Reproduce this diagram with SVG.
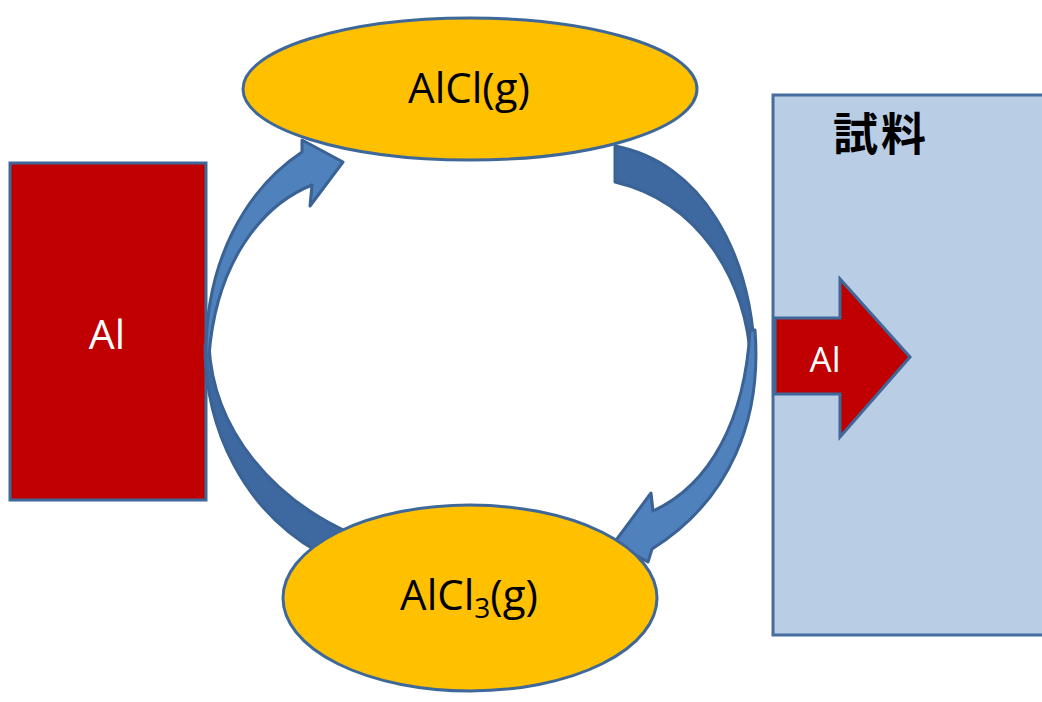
<svg xmlns="http://www.w3.org/2000/svg" width="1042" height="702" viewBox="0 0 1042 702">
  <style>
    .lbl { font-family: "Open Sans", "Noto Sans", "Liberation Sans", sans-serif; }
    .gas { fill: #FFC000; stroke: #3E6899; stroke-width: 3; }
    .front { fill: #4F81BD; stroke: #3A6295; stroke-width: 3; stroke-linejoin: round; }
    .back { fill: #3D68A0; stroke: #3A6295; stroke-width: 3; stroke-linejoin: round; }
    .red { fill: #C00000; stroke: #3E6899; stroke-width: 3; }
  </style>
  <rect width="1042" height="702" fill="#FFFFFF"/>

  <!-- sample block on the right -->
  <g id="sample">
    <rect x="773" y="95" width="290" height="540" fill="#B9CDE5" stroke="#456D9E" stroke-width="3"/>
    <text x="833" y="151" font-family="'Noto Sans CJK JP', sans-serif" font-weight="bold" font-size="45" letter-spacing="3" fill="#000000">試料</text>
  </g>

  <!-- Al diffusing into the sample -->
  <g id="al-flux">
    <path class="red" d="M 775,318 L 840,318 L 840,279 L 910,357 L 840,437 L 840,394 L 775,394 Z"/>
    <text class="lbl" x="825" y="372" text-anchor="middle" font-size="35" fill="#FFFFFF">Al</text>
  </g>

  <!-- Al source -->
  <g id="al-source">
    <rect class="red" x="10" y="163" width="196" height="337"/>
    <text class="lbl" x="107" y="349" text-anchor="middle" font-size="41" fill="#FFFFFF">Al</text>
  </g>

  <!-- curved cycle arrows -->
  <g id="connectors">
    <!-- left: AlCl3 back toward the source -->
    <path class="back" d="M 205,345 C 205,432 245,510 318,552 L 352,534 C 275,500 213,432 209,345 Z"/>
    <!-- left: source up to AlCl -->
    <path class="front" d="M 206,356 C 205,262 245,190 302,152 L 302,140 L 343,162 L 310,206 L 312,185 C 262,205 216,262 209,356 Z"/>
    <!-- right: AlCl down the side -->
    <path class="back" d="M 615,146 C 700,162 752,250 755,362 L 751,362 C 746,280 700,202 615,182 Z"/>
    <!-- right: down to AlCl3 -->
    <path class="front" d="M 755,330 C 762,420 730,500 652,549 L 648,562 L 614,543 L 651,493 L 653,511 C 710,485 745,420 750,330 Z"/>
  </g>

  <g id="alcl">
    <ellipse class="gas" cx="470" cy="89" rx="227" ry="71"/>
    <text class="lbl" x="469" y="103" text-anchor="middle" font-size="42" fill="#000000">AlCl(g)</text>
  </g>

  <g id="alcl3">
    <ellipse class="gas" cx="470" cy="598" rx="187" ry="93"/>
    <text class="lbl" x="469" y="610" text-anchor="middle" font-size="42" fill="#000000">AlCl<tspan font-size="28" dy="8">3</tspan><tspan dy="-8">(g)</tspan></text>
  </g>
</svg>
